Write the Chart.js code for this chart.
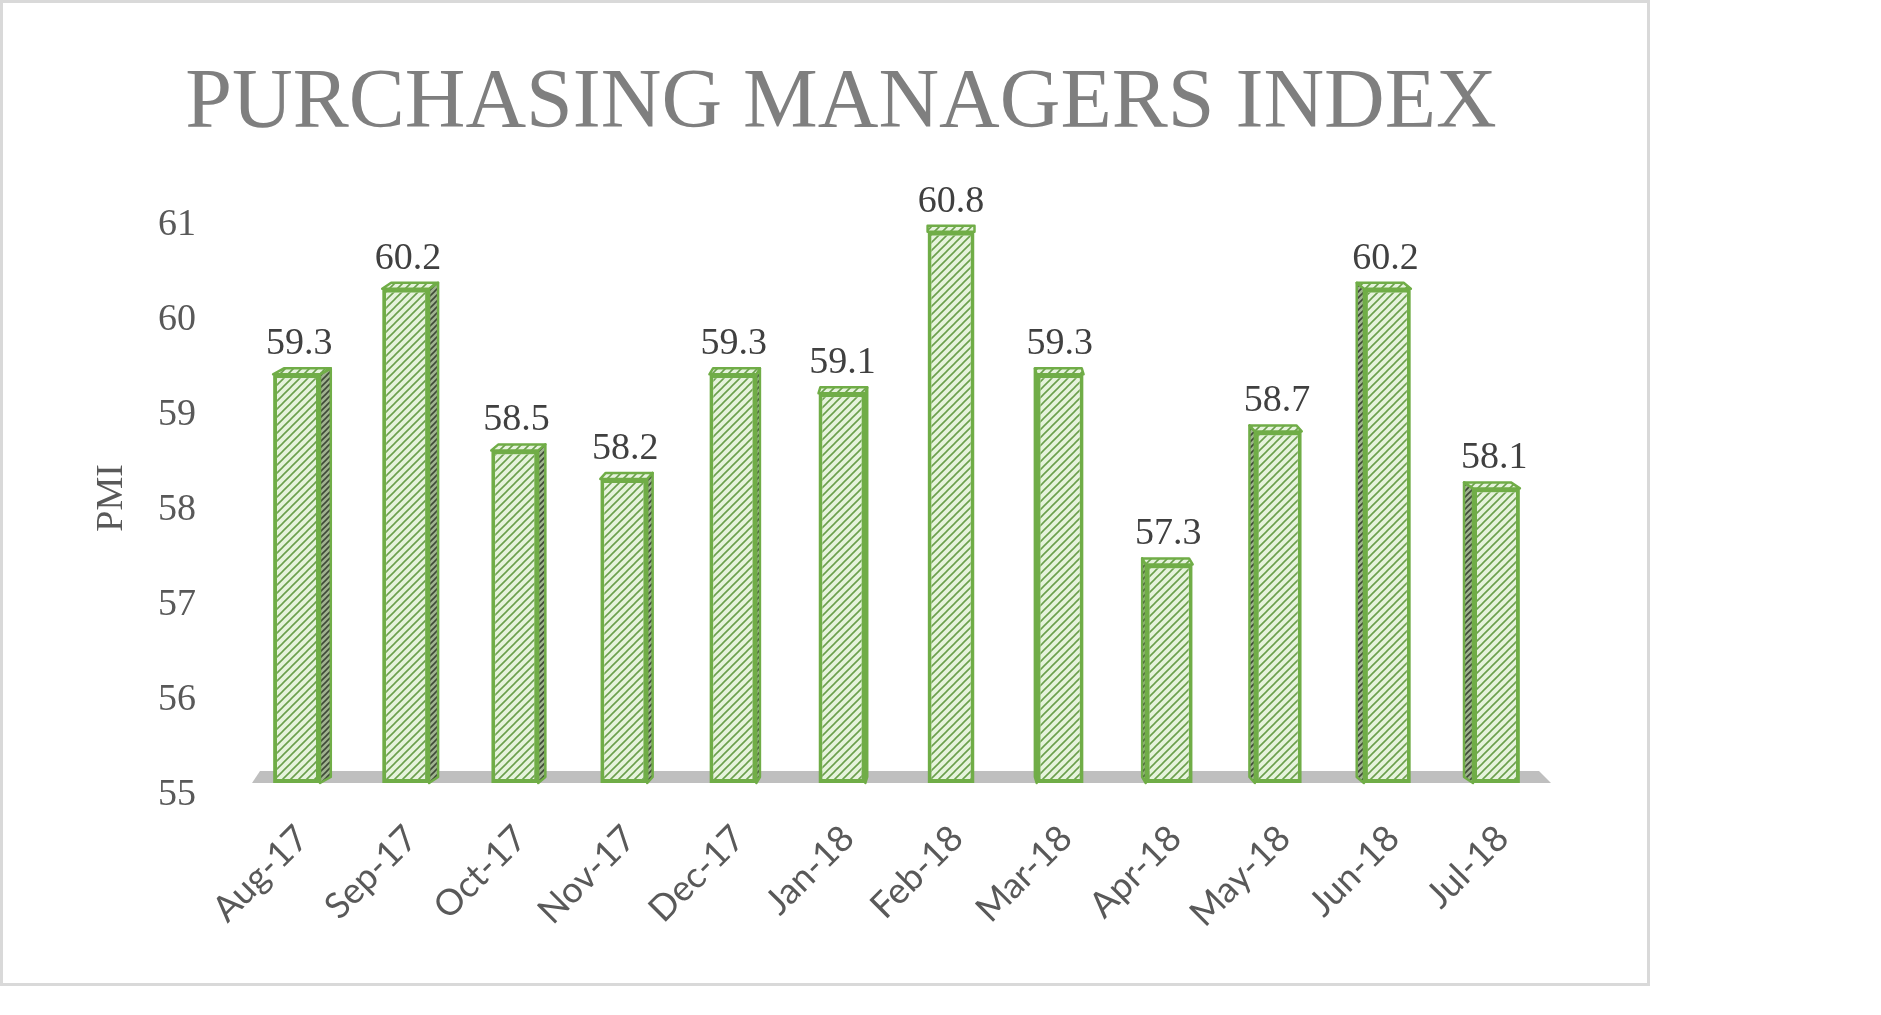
<!DOCTYPE html>
<html>
<head>
<meta charset="utf-8">
<title>Purchasing Managers Index</title>
<script src="https://cdn.jsdelivr.net/npm/chart.js@4.4.1/dist/chart.umd.min.js"></script>
<style>
  body { margin: 0; background: #fff; }
  #frame { position: absolute; left: 0; top: 0; width: 1644px; height: 980px; border: 3px solid #d9d9d9; }
  #pmiChart { position: absolute; left: 3px; top: 3px; }
</style>
</head>
<body>
<div id="frame"></div>
<canvas id="pmiChart" width="1676" height="980"></canvas>
<script>
// data
const months = ['Aug-17', 'Sep-17', 'Oct-17', 'Nov-17', 'Dec-17', 'Jan-18',
                'Feb-18', 'Mar-18', 'Apr-18', 'May-18', 'Jun-18', 'Jul-18'];
const pmiValues = [59.3, 60.2, 58.5, 58.2, 59.3, 59.1, 60.8, 59.3, 57.3, 58.7, 60.2, 58.1];
const yMin = 55;
const yMax = 61;

const ctx = document.getElementById('pmiChart').getContext('2d');

// diagonal hatch fill, like the office pattern fill
function makeHatch(bg, line, size) {
    const tile = document.createElement('canvas');
    tile.width = size;
    tile.height = size;
    const g = tile.getContext('2d');
    g.fillStyle = bg;
    g.fillRect(0, 0, size, size);
    g.strokeStyle = line;
    g.lineWidth = 1.6;
    g.beginPath();
    g.moveTo(-1, size + 1); g.lineTo(size + 1, -1);
    g.moveTo(-1, 1); g.lineTo(1, -1);
    g.moveTo(size - 1, size + 1); g.lineTo(size + 1, size - 1);
    g.stroke();
    return ctx.createPattern(tile, 'repeat');
}
const frontFill = makeHatch('#e6f3dc', '#6b9f4c', 8);
const sideFill = makeHatch('#9fb28f', '#3f4a38', 6);
const green = '#70ad47';

// side offset of the fake 3d faces, bars left of the middle show their right side
const sideOffset = i => (6 - i) * 1.8;

const barDepth = {
    id: 'barDepth',
    beforeDatasetsDraw(chart) {
        const { ctx, chartArea, scales } = chart;
        const base = scales.y.getPixelForValue(yMin);
        ctx.save();
        // grey floor
        ctx.fillStyle = '#bfbfbf';
        ctx.beginPath();
        ctx.moveTo(chartArea.left + 10, base);
        ctx.lineTo(chartArea.left + 18, base - 12);
        ctx.lineTo(chartArea.right - 12, base - 12);
        ctx.lineTo(chartArea.right, base);
        ctx.closePath();
        ctx.fill();

        ctx.strokeStyle = green;
        ctx.lineWidth = 2.5;
        ctx.lineJoin = 'round';
        chart.getDatasetMeta(0).data.forEach((bar, i) => {
            const s = sideOffset(i);
            const d = 6;
            const l = bar.x - bar.width / 2;
            const r = bar.x + bar.width / 2;
            if (s !== 0) {
                const edge = s > 0 ? r : l;
                ctx.fillStyle = sideFill;
                ctx.beginPath();
                ctx.moveTo(edge, bar.y);
                ctx.lineTo(edge + s, bar.y - d);
                ctx.lineTo(edge + s, base - d);
                ctx.lineTo(edge, base);
                ctx.closePath();
                ctx.fill();
                ctx.stroke();
            }
            ctx.fillStyle = frontFill;
            ctx.beginPath();
            ctx.moveTo(l, bar.y);
            ctx.lineTo(l + s, bar.y - d);
            ctx.lineTo(r + s, bar.y - d);
            ctx.lineTo(r, bar.y);
            ctx.closePath();
            ctx.fill();
            ctx.stroke();
        });
        ctx.restore();
    },
    afterDatasetsDraw(chart) {
        const { ctx } = chart;
        ctx.save();
        ctx.font = '38px "Liberation Serif"';
        ctx.fillStyle = '#404040';
        ctx.textAlign = 'center';
        ctx.textBaseline = 'alphabetic';
        chart.getDatasetMeta(0).data.forEach((bar, i) => {
            ctx.fillText(pmiValues[i].toFixed(1), bar.x + sideOffset(i) / 4, bar.y - 20);
        });
        ctx.restore();
    }
};

const chart = new Chart(ctx, {
    type: 'bar',
    data: {
        labels: months,
        datasets: [{
            label: 'PMI',
            data: pmiValues,
            base: yMin,
            backgroundColor: frontFill,
            borderColor: green,
            borderWidth: 4,
            borderSkipped: false,
            barPercentage: 0.43,
            categoryPercentage: 1
        }]
    },
    options: {
        responsive: false,
        devicePixelRatio: 1,
        animation: false,
        layout: {
            padding: 0
        },
        plugins: {
            legend: { display: false },
            tooltip: { enabled: false },
            title: {
                display: true,
                text: 'PURCHASING MANAGERS INDEX',
                color: '#7f7f7f',
                font: { family: 'Liberation Serif', size: 84, weight: 'normal', lineHeight: 1.2 },
                padding: { top: 52, bottom: 57 }
            }
        },
        scales: {
            x: {
                grid: { display: false, drawTicks: false },
                border: { display: false },
                ticks: {
                    color: '#595959',
                    font: { family: 'Lato', size: 36 },
                    minRotation: 45,
                    maxRotation: 45,
                    padding: 34,
                    labelOffset: 6
                },
                afterFit(scale) {
                    scale.height = 200;
                }
            },
            y: {
                min: yMin,
                max: yMax,
                grid: { display: false, drawTicks: false },
                border: { display: false },
                ticks: {
                    stepSize: 1,
                    color: '#595959',
                    font: { family: 'Liberation Serif', size: 38 },
                    padding: 46,
                    labelOffset: 12
                },
                title: {
                    display: true,
                    text: 'PMI',
                    color: '#595959',
                    font: { family: 'Liberation Serif', size: 38 },
                    padding: { top: 86, bottom: 0 }
                },
                afterFit(scale) {
                    scale.width = 239;
                }
            },
            // empty right axis, only keeps the plot clear of the right margin
            yRight: {
                position: 'right',
                display: true,
                min: yMin,
                max: yMax,
                grid: { display: false, drawTicks: false },
                border: { display: false },
                ticks: { display: false },
                afterFit(scale) {
                    scale.width = 128;
                }
            }
        }
    },
    plugins: [barDepth]
});
</script>
</body>
</html>
